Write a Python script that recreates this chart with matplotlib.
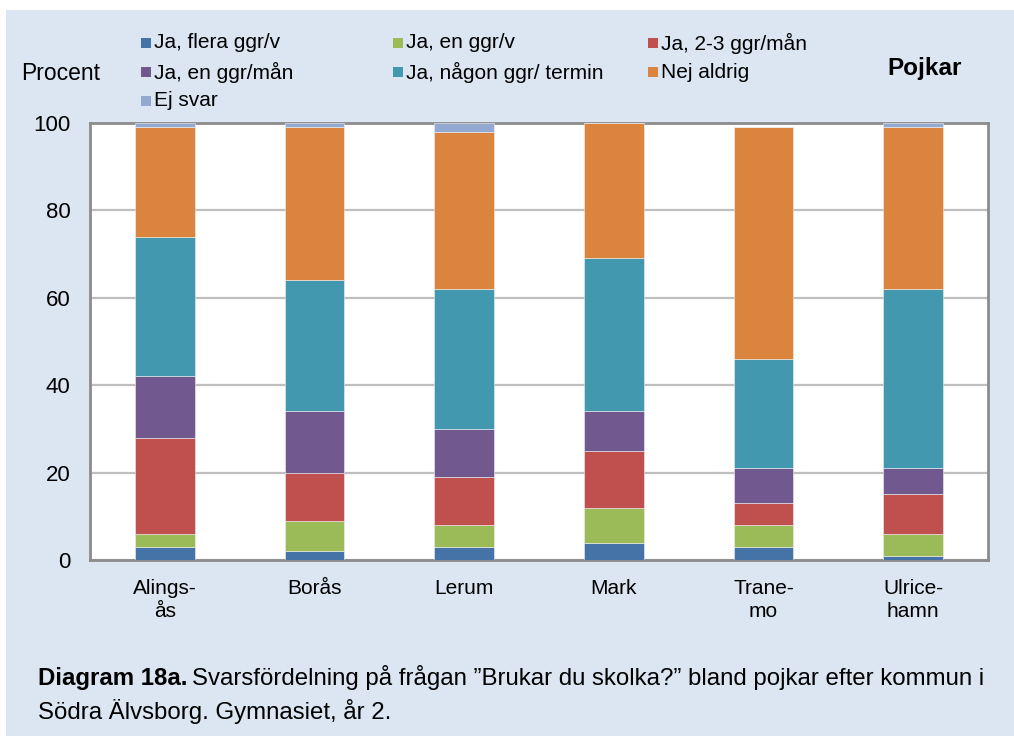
import matplotlib
matplotlib.use("Agg")
import matplotlib.pyplot as plt
from matplotlib.patches import Rectangle
import numpy as np

plt.rcParams['font.family'] = ['Liberation Sans', 'DejaVu Sans']

kommuner = ['Alings-\nås', 'Borås', 'Lerum', 'Mark', 'Trane-\nmo', 'Ulrice-\nhamn']
serier = ['Ja, flera ggr/v', 'Ja, en ggr/v', 'Ja, 2-3 ggr/mån',
          'Ja, en ggr/mån', 'Ja, någon ggr/ termin', 'Nej aldrig', 'Ej svar']

# procent per kommun, lasta nedifran och upp
flera_ggr_v = [3, 2, 3, 4, 3, 1]
en_ggr_v = [3, 7, 5, 8, 5, 5]
tva_tre_ggr_man = [22, 11, 11, 13, 5, 9]
en_ggr_man = [14, 14, 11, 9, 8, 6]
nagon_ggr_termin = [32, 30, 32, 35, 25, 41]
nej_aldrig = [25, 35, 36, 31, 53, 37]
ej_svar = [1, 1, 2, 0, 0, 1]

data = [flera_ggr_v, en_ggr_v, tva_tre_ggr_man, en_ggr_man,
        nagon_ggr_termin, nej_aldrig, ej_svar]
farger = ['#4572a7', '#9bbb59', '#c0504d', '#71588f', '#4198af', '#db843d', '#93a9cf']

bg = '#dce6f2'
W, H = 1014, 736
fig = plt.figure(figsize=(W/100, H/100), dpi=100)
fig.patch.set_facecolor('white')
fig.patches.append(Rectangle((6/W, 0), 1, (H-10)/H, transform=fig.transFigure,
                             facecolor=bg, edgecolor='none', zorder=-10))

ax = fig.add_axes([90/W, (H-560)/H, 898/W, 437/H])
ax.set_facecolor('white')

x = np.arange(len(kommuner))
bottom = np.zeros(len(kommuner))
for namn, vals, c in zip(serier, data, farger):
    ax.bar(x, vals, width=0.4, bottom=bottom, color=c, edgecolor='#f0f0f0',
           linewidth=0.4, label=namn, zorder=3)
    bottom += np.array(vals)

ax.set_xlim(-0.5, len(kommuner) - 0.5)
ax.set_ylim(0, 100)
ax.set_yticks(range(0, 101, 20))
ax.yaxis.grid(True, color='#bfbfbf', linewidth=1.6, zorder=0)
ax.set_axisbelow(True)
ax.tick_params(axis='y', length=0, pad=14, labelsize=16)
ax.tick_params(axis='x', length=0, pad=14, labelsize=15)
ax.set_xticks(x)
ax.set_xticklabels(kommuner, linespacing=1.25)
for s in ax.spines.values():
    s.set_color('#8c8c8c')
    s.set_linewidth(2)

# legend by hand, three columns
leg_x = [141, 393, 648]
leg_y = [43, 72, 101]
for i, (namn, c) in enumerate(zip(serier, farger)):
    r, k = divmod(i, 3)
    px, py = leg_x[k], leg_y[r]
    fig.patches.append(Rectangle((px/W, 1 - (py+5)/H), 10/W, 10/H,
                                 transform=fig.transFigure, facecolor=c,
                                 edgecolor='none'))
    fig.text((px+13)/W, 1 - py/H, namn, fontsize=15, va='center', ha='left')

fig.text(21/W, 1 - 73/H, 'Procent', fontsize=16.5, va='center', ha='left')
fig.text(962/W, 1 - 69/H, 'Pojkar', fontsize=17.5, fontweight='bold',
         va='center', ha='right')

# caption
cap = fig.text(38/W, 1 - 678/H, 'Diagram 18a.', fontsize=17.3, fontweight='bold',
               va='center', ha='left')
r = fig.canvas.get_renderer()
bb = cap.get_window_extent(renderer=r)
fig.text((bb.x1 + 5)/W, 1 - 678/H,
         'Svarsfördelning på frågan ”Brukar du skolka?” bland pojkar efter kommun i',
         fontsize=17.3, va='center', ha='left')
fig.text(38/W, 1 - 712/H, 'Södra Älvsborg. Gymnasiet, år 2.', fontsize=17.3,
         va='center', ha='left')

fig.savefig('out.png', dpi=100, facecolor=fig.get_facecolor())
